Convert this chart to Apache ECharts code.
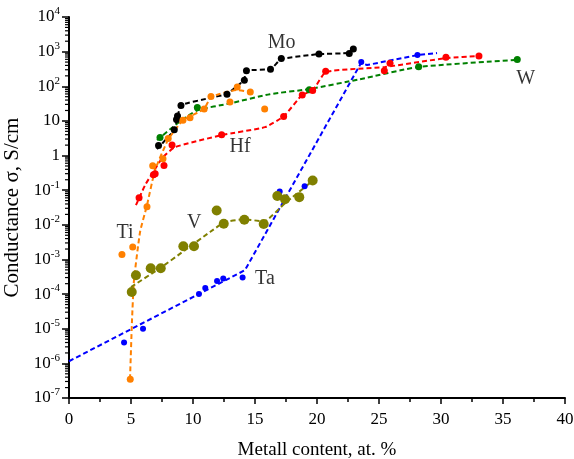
<!DOCTYPE html>
<html>
<head>
<meta charset="utf-8">
<script src="https://cdn.jsdelivr.net/npm/echarts@6/dist/echarts.min.js"></script>
<style>html,body{margin:0;padding:0;background:#fff}#c{width:574px;height:459px}</style>
</head>
<body>
<div id="c"></div>
<script>
// ---- data (x: metal content at.%, y: conductance S/cm) ----
const moPoints = [[7.22,1.95],[8.49,5.6],[8.67,11],[8.75,13.8],[9.03,28],[12.74,59],[14.14,150],[14.31,280],[16.25,310],[17.12,630],[20.16,850],[22.6,890],[22.93,1200]];
const moLine   = [[7.10,1.53],[8.47,5.4],[8.71,11.2],[9.03,28.6],[11.37,46],[12.74,60],[14.11,151],[14.31,283],[16.29,314],[17.1,611],[20.16,850],[22.58,910],[22.9,1190]];

const wPoints = [[7.34,3.3],[10.35,24.5],[19.38,79],[28.2,365],[36.15,590]];
const wLine   = [[7.1,2.8],[8.79,8.7],[10.32,20],[12.98,32],[16.2,59],[19.35,83],[23.47,160],[28.2,360],[36.1,575]];

const hfPoints = [[5.65,0.06],[6.81,0.28],[6.95,0.3],[7.66,0.52],[8.31,2.0],[12.31,4.0],[17.31,13.5],[18.81,56],[19.65,76],[20.7,270],[25.43,280],[25.89,460],[30.4,690],[33.06,750]];
const hfLine   = [[5.40,0.037],[6.13,0.138],[6.77,0.33],[7.58,0.9],[8.55,1.75],[12.34,3.9],[15.81,6.6],[17.34,13.8],[18.79,56],[19.68,78],[20.73,260],[25.48,360],[30.4,650],[33.06,745]];

const taPoints = [[4.44,4e-6],[5.97,1e-5],[10.48,1e-4],[10.99,1.5e-4],[11.94,2.4e-4],[12.44,2.8e-4],[14.0,3.0e-4],[16.99,0.092],[19.0,0.13],[23.57,500],[28.1,800]];
const taLine   = [[0,1.15e-6],[14.19,4.9e-4],[23.55,470],[24.03,410],[28.06,790],[29.68,910]];

const tiPoints = [[4.94,3.5e-7],[4.27,1.4e-3],[5.14,2.3e-3],[6.29,0.033],[6.75,0.51],[7.58,0.81],[8.0,3.1],[9.19,10.5],[9.76,12.4],[10.9,22],[11.45,51],[12.98,35],[13.57,95],[14.62,68],[15.78,22]];
const tiLine   = [[4.92,3.5e-7],[5.08,1.7e-5],[5.24,2.5e-4],[5.73,6.2e-3],[6.29,0.037],[6.94,0.38],[7.98,2.8],[9.19,10.5],[10.89,22],[11.45,49],[13.55,78],[14.6,68]];

const vPoints = [[5.06,1.15e-4],[5.40,3.5e-4],[6.59,5.6e-4],[7.40,5.6e-4],[9.22,2.4e-3],[10.08,2.4e-3],[11.91,0.026],[12.48,0.0107],[14.14,0.014],[15.70,0.0105],[16.80,0.068],[17.42,0.055],[18.57,0.063],[19.65,0.19]];
const vLine   = [[5.0,1.6e-4],[7.34,5.6e-4],[9.35,1.85e-3],[11.37,6.2e-3],[12.58,0.012],[14.11,0.0144],[15.73,0.0126],[17.42,0.042],[19.6,0.18]];

const labelNames = ['Mo','Hf','W','Ti','V','Ta'];
const labelX = [17.15, 13.79, 36.83, 4.52, 10.1, 15.8];
const labelY = [1800, 1.85, 160, 5.8e-3, 0.0115, 2.8e-4];

const xTickValues = [0,5,10,15,20,25,30,35,40];
const yExpMin = -7, yExpMax = 4;

// ---- build ----
const FONT = 'Liberation Serif';
const minorVals = [];
for (let e = yExpMin; e < yExpMax; e++) for (let m = 2; m <= 9; m++) minorVals.push([0, m * Math.pow(10, e)]);

function lineSeries(data, color, smooth) {
  return { type: 'line', data: data, showSymbol: false, symbol: 'none', smooth: smooth,
    lineStyle: { color: color, width: 2, type: [5, 3] }, z: 2, silent: true };
}
function pointSeries(data, color, size) {
  return { type: 'scatter', data: data, symbolSize: size, itemStyle: { color: color, opacity: 1 }, z: 3, silent: true };
}

const chart = echarts.init(document.getElementById('c'), null, { renderer: 'canvas' });
chart.setOption({
  animation: false,
  backgroundColor: '#fff',
  grid: { left: 69, right: 9, top: 17, bottom: 61, containLabel: false, outerBoundsMode: 'none' },
  xAxis: {
    type: 'value', min: 0, max: 40, interval: 5,
    name: 'Metall content, at. %', nameLocation: 'middle', nameGap: 43,
    nameTextStyle: { fontFamily: FONT, fontSize: 19, color: '#000' },
    axisLine: { lineStyle: { color: '#000', width: 2 } },
    axisTick: { length: 6, lineStyle: { color: '#000', width: 1.5 } },
    minorTick: { show: true, splitNumber: 2, length: 4, lineStyle: { color: '#000', width: 1.5 } },
    axisLabel: { fontFamily: FONT, fontSize: 17, color: '#000', margin: 13,
      formatter: v => xTickValues.indexOf(v) >= 0 ? String(v) : '' },
    splitLine: { show: false }
  },
  yAxis: {
    type: 'log', logBase: 10, min: Math.pow(10, yExpMin), max: Math.pow(10, yExpMax), interval: 1,
    name: 'Conductance σ, S/cm', nameLocation: 'middle', nameGap: 42, nameRotate: 90,
    nameTextStyle: { fontFamily: FONT, fontSize: 21, color: '#000' },
    axisLine: { show: true, lineStyle: { color: '#000', width: 2 } },
    axisTick: { show: true, length: 7, lineStyle: { color: '#000', width: 1.5 } },
    minorTick: { show: false },
    splitLine: { show: false },
    axisLabel: {
      fontFamily: FONT, fontSize: 17, color: '#000', margin: 9,
      formatter: v => {
        const e = Math.round(Math.log10(v));
        if (e === 0) return '1';
        if (e === 1) return '10';
        return '10{s|' + e + '}';
      },
      rich: { s: { fontFamily: FONT, fontSize: 11, color: '#000', verticalAlign: 'top', lineHeight: 22 } }
    }
  },
  series: [
    { type: 'custom', coordinateSystem: 'cartesian2d', data: minorVals, clip: false, silent: true, z: 5,
      renderItem: (params, api) => {
        const p = api.coord([0, api.value(1)]);
        return { type: 'line', shape: { x1: p[0] - 4, y1: p[1], x2: p[0], y2: p[1] },
          style: { stroke: '#000', lineWidth: 1.2 } };
      } },
    lineSeries(taLine, '#0000ff', false),
    lineSeries(wLine, '#008000', 0.2),
    lineSeries(hfLine, '#ff0000', 0.15),
    lineSeries(moLine, '#000000', 0.1),
    lineSeries(tiLine, '#ff8000', 0.15),
    lineSeries(vLine, '#808000', 0.15),
    pointSeries(taPoints, '#0000ff', 6),
    pointSeries(wPoints, '#008000', 7),
    pointSeries(hfPoints, '#ff0000', 7),
    pointSeries(moPoints, '#000000', 7),
    pointSeries(tiPoints, '#ff8000', 7),
    pointSeries(vPoints, '#808000', 10),
    { type: 'scatter', symbolSize: 0, silent: true, z: 4,
      data: labelNames.map((n, i) => ({ name: n, value: [labelX[i], labelY[i]] })),
      label: { show: true, position: 'inside', formatter: p => p.name,
        fontFamily: FONT, fontSize: 20, color: '#000' } }
  ]
});
</script>
</body>
</html>
